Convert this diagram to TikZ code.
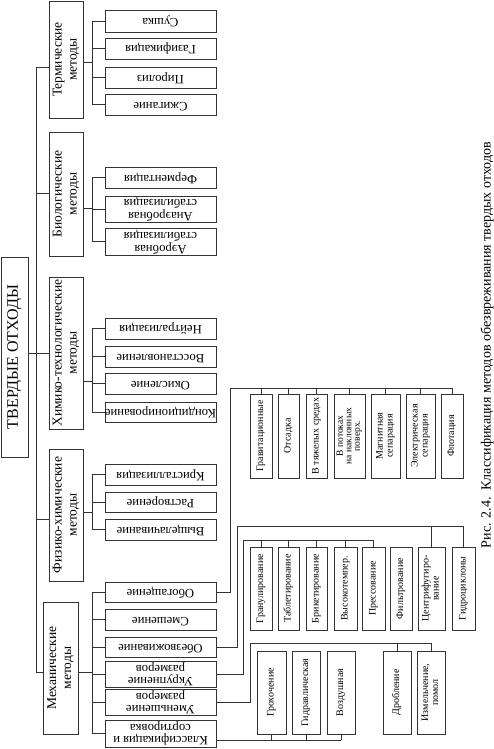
\documentclass[tikz,border=0pt]{standalone}
\usepackage{graphicx}
\usepackage{fontspec}
\setmainfont{Liberation Serif}
\usetikzlibrary{positioning,calc}
\tikzset{
  catbox/.style={draw=black!80, line width=0.6pt, inner sep=0pt,
    font=\fontsize{13.5}{15}\selectfont, minimum width=34pt},
  subbox/.style={draw=black!80, line width=0.6pt, inner sep=0pt,
    font=\fontsize{12.7}{11.8}\selectfont, minimum width=111pt},
  leafbox/.style={draw=black!80, line width=0.6pt, inner sep=0pt,
    font=\fontsize{10}{10}\selectfont},
  link/.style={draw=black!80, line width=0.6pt},
}
\newcommand{\vtxt}[1]{\rotatebox{90}{\begin{tabular}{@{}c@{}}#1\end{tabular}}}
\newcommand{\utxt}[1]{\rotatebox{180}{\begin{tabular}{@{}c@{}}#1\end{tabular}}}

\begin{document}
\begin{tikzpicture}[x=1pt, y=-1pt]
\useasboundingbox (0,0) rectangle (494,749);

%% root and methods
\node[catbox, font=\fontsize{16}{17}\selectfont, minimum width=27pt, minimum height=200pt]
  (root) at (14.5,357) {\vtxt{ТВЕРДЫЕ ОТХОДЫ}};
\node[catbox, minimum height=117pt] (term) at (66,59.5) {\vtxt{Термические\\методы}};
\node[catbox, minimum height=124pt] (bio)  at (66,194)  {\vtxt{Биологические\\методы}};
\node[catbox, minimum height=152pt] (chem) at (66,353)  {\vtxt{Химико-технологические\\методы}};
\node[catbox, minimum height=132pt] (phys) at (66,515)  {\vtxt{Физико-химические\\методы}};
\node[catbox, minimum width=35pt, minimum height=132pt] (mech) at (60.5,668) {\vtxt{Механические\\методы}};

%% trunk
\coordinate (t1) at (36,67);
\coordinate (t2) at (36,193);
\coordinate (t3) at (36,353);
\coordinate (t4) at (36,519);
\coordinate (t5) at (36,672);
\draw[link] (t1) -- (t5);
\draw[link] (t1) -- (t1 -| term.west);
\draw[link] (t2) -- (t2 -| bio.west);
\draw[link] (root.east |- t3) -- (t3 -| chem.west);
\draw[link] (t4) -- (t4 -| phys.west);
\draw[link] (t5) -- (t5 -| mech.west);

%% thermal
\node[subbox, minimum height=22pt] (sush) at (160.5,21)    {\utxt{Сушка}};
\node[subbox, minimum height=21pt] (gaz)  at (160.5,48.5)  {\utxt{Газификация}};
\node[subbox, minimum height=21pt] (pir)  at (160.5,77.5)  {\utxt{Пиролиз}};
\node[subbox, minimum height=21pt] (szh)  at (160.5,104.5) {\utxt{Сжигание}};
\coordinate (o1) at (92,62);
\draw[link] (o1 -| term.east) -- (o1);
\draw[link] (o1 |- sush.west) -- (o1 |- szh.west);
\foreach \n in {sush,gaz,pir,szh} \draw[link] (o1 |- \n.west) -- (\n.west);

%% biological
\node[subbox, minimum height=21pt] (ferm) at (160.5,177.5) {\utxt{Ферментация}};
\node[subbox, minimum height=26pt] (anaer) at (160.5,209)  {\utxt{Анаэробная\\стабилизация}};
\node[subbox, minimum height=27pt] (aer)  at (160.5,241.5) {\utxt{Аэробная\\стабилизация}};
\coordinate (o2) at (92,208);
\draw[link] (o2 -| bio.east) -- (o2);
\draw[link] (o2 |- ferm.west) -- (o2 |- aer.west);
\foreach \n in {ferm,anaer,aer} \draw[link] (o2 |- \n.west) -- (\n.west);

%% chemical
\node[subbox, minimum height=21pt] (neitr) at (160.5,328.5) {\utxt{Нейтрализация}};
\node[subbox, minimum height=21pt] (vosst) at (160.5,356.5) {\utxt{Восстановление}};
\node[subbox, minimum height=21pt] (okis)  at (160.5,383.5) {\utxt{Окисление}};
\node[subbox, minimum height=20pt] (kond)  at (160.5,412)   {\utxt{Кондиционирование}};
\coordinate (o3) at (92,381);
\draw[link] (o3 -| chem.east) -- (o3);
\draw[link] (o3 |- neitr.west) -- (o3 |- kond.west);
\foreach \n in {neitr,vosst,okis,kond} \draw[link] (o3 |- \n.west) -- (\n.west);

%% physico-chemical
\node[subbox, minimum height=21pt] (krist) at (160.5,474.5) {\utxt{Кристаллизация}};
\node[subbox, minimum height=20pt] (rastv) at (160.5,502)   {\utxt{Растворение}};
\node[subbox, minimum height=21pt] (vysch) at (160.5,529.5) {\utxt{Выщелачивание}};
\coordinate (o4) at (92,512);
\draw[link] (o4 -| phys.east) -- (o4);
\draw[link] (o4 |- krist.west) -- (o4 |- vysch.west);
\foreach \n in {krist,rastv,vysch} \draw[link] (o4 |- \n.west) -- (\n.west);

%% mechanical
\node[subbox, minimum height=20pt] (obog)  at (160.5,592)   {\utxt{Обогащение}};
\node[subbox, minimum height=21pt] (smesh) at (160.5,619.5) {\utxt{Смешение}};
\node[subbox, minimum height=20pt] (obezv) at (160.5,647)   {\utxt{Обезвоживание}};
\node[subbox, minimum height=26pt] (ukrup) at (160.5,674)   {\utxt{Укрупнение\\размеров}};
\node[subbox, minimum height=26pt] (umen)  at (160.5,702)   {\utxt{Уменьшение\\размеров}};
\node[subbox, minimum height=27pt] (klass) at (160.5,733.5) {\utxt{Классификация и\\сортировка}};
\coordinate (o5) at (92,672);
\draw[link] (o5 -| mech.east) -- (o5);
\draw[link] (o5 |- obog.west) -- (o5 |- klass.west);
\foreach \n in {obog,smesh,obezv,ukrup,umen,klass} \draw[link] (o5 |- \n.west) -- (\n.west);

%% enrichment
\node[leafbox, minimum width=22pt, minimum height=84pt] (grav)  at (261,436)   {\vtxt{Гравитационные}};
\node[leafbox, minimum width=21pt, minimum height=84pt] (otsad) at (288.5,436) {\vtxt{Отсадка}};
\node[leafbox, minimum width=21pt, minimum height=84pt] (tyazh) at (316.5,436) {\vtxt{В тяжелых средах}};
\node[leafbox, minimum width=31pt, minimum height=84pt, font=\fontsize{9.5}{8.5}\selectfont]
  (potok) at (349.5,436) {\vtxt{В потоках\\на наклонных\\поверх.}};
\node[leafbox, minimum width=29pt, minimum height=84pt] (magn)  at (385.5,436) {\vtxt{Магнитная\\сепарация}};
\node[leafbox, minimum width=29pt, minimum height=84pt] (elek)  at (420.5,436) {\vtxt{Электрическая\\сепарация}};
\node[leafbox, minimum width=22pt, minimum height=84pt] (flot)  at (452,436)   {\vtxt{Флотация}};
\coordinate (g1) at (230,388);
\draw[link] (obog.east) -| (g1) -- (g1 -| flot.north);
\foreach \n in {grav,otsad,tyazh,potok,magn,elek,flot} \draw[link] (g1 -| \n.north) -- (\n.north);

%% enlargement and dewatering
\node[leafbox, minimum width=22pt, minimum height=83pt] (granul) at (261,588.5)   {\vtxt{Гранулирование}};
\node[leafbox, minimum width=21pt, minimum height=83pt] (tablet) at (288.5,588.5) {\vtxt{Таблетирование}};
\node[leafbox, minimum width=21pt, minimum height=83pt] (briket) at (316.5,588.5) {\vtxt{Брикетирование}};
\node[leafbox, minimum width=23pt, minimum height=83pt] (vysok)  at (345.5,588.5) {\vtxt{Высокотемпер.}};
\node[leafbox, minimum width=23pt, minimum height=83pt] (press)  at (373.5,588.5) {\vtxt{Прессование}};
\node[leafbox, minimum width=22pt, minimum height=83pt] (filtr)  at (401,588.5)   {\vtxt{Фильтрование}};
\node[leafbox, minimum width=27pt, minimum height=83pt] (centr)  at (431.5,588.5) {\vtxt{Центрифугиро-\\вание}};
\node[leafbox, minimum width=23pt, minimum height=83pt] (gidrc)  at (463.5,588.5) {\vtxt{Гидроциклоны}};
\coordinate (g2) at (237,526);
\draw[link] (obezv.east) -| (g2) -- (g2 -| gidrc.north);
\foreach \n in {centr,gidrc} \draw[link] (g2 -| \n.north) -- (\n.north);
\coordinate (g3) at (243,540);
\draw[link] (ukrup.east) -| (g3) -- (g3 -| press.north);
\foreach \n in {granul,tablet,briket,vysok,press} \draw[link] (g3 -| \n.north) -- (\n.north);

%% size reduction and classification
\node[leafbox, minimum width=29pt, minimum height=83pt] (groh)   at (271.5,692.5) {\vtxt{Грохочение}};
\node[leafbox, minimum width=28pt, minimum height=83pt] (gidrav) at (306,692.5)   {\vtxt{Гидравлическая}};
\node[leafbox, minimum width=28pt, minimum height=83pt] (vozd)   at (341,692.5)   {\vtxt{Воздушная}};
\node[leafbox, minimum width=28pt, minimum height=83pt] (drob)   at (397,692.5)   {\vtxt{Дробление}};
\node[leafbox, minimum width=28pt, minimum height=83pt] (izmel)  at (431,692.5)   {\vtxt{Измельчение,\\помол}};
\coordinate (g4) at (250,643);
\draw[link] (umen.east) -| (g4) -- (g4 -| izmel.north);
\foreach \n in {drob,izmel} \draw[link] (g4 -| \n.north) -- (\n.north);
\coordinate (g5) at (0,740);
\draw[link] (klass.east |- g5) -- (g5 -| vozd.south);
\foreach \n in {groh,gidrav,vozd} \draw[link] (g5 -| \n.south) -- (\n.south);

%% caption
\node[rotate=90, font=\fontsize{14}{14}\selectfont] (cap) at (487,345)
  {Рис. 2.4.\enspace Классификация методов обезвреживания твердых отходов};
\end{tikzpicture}
\end{document}
